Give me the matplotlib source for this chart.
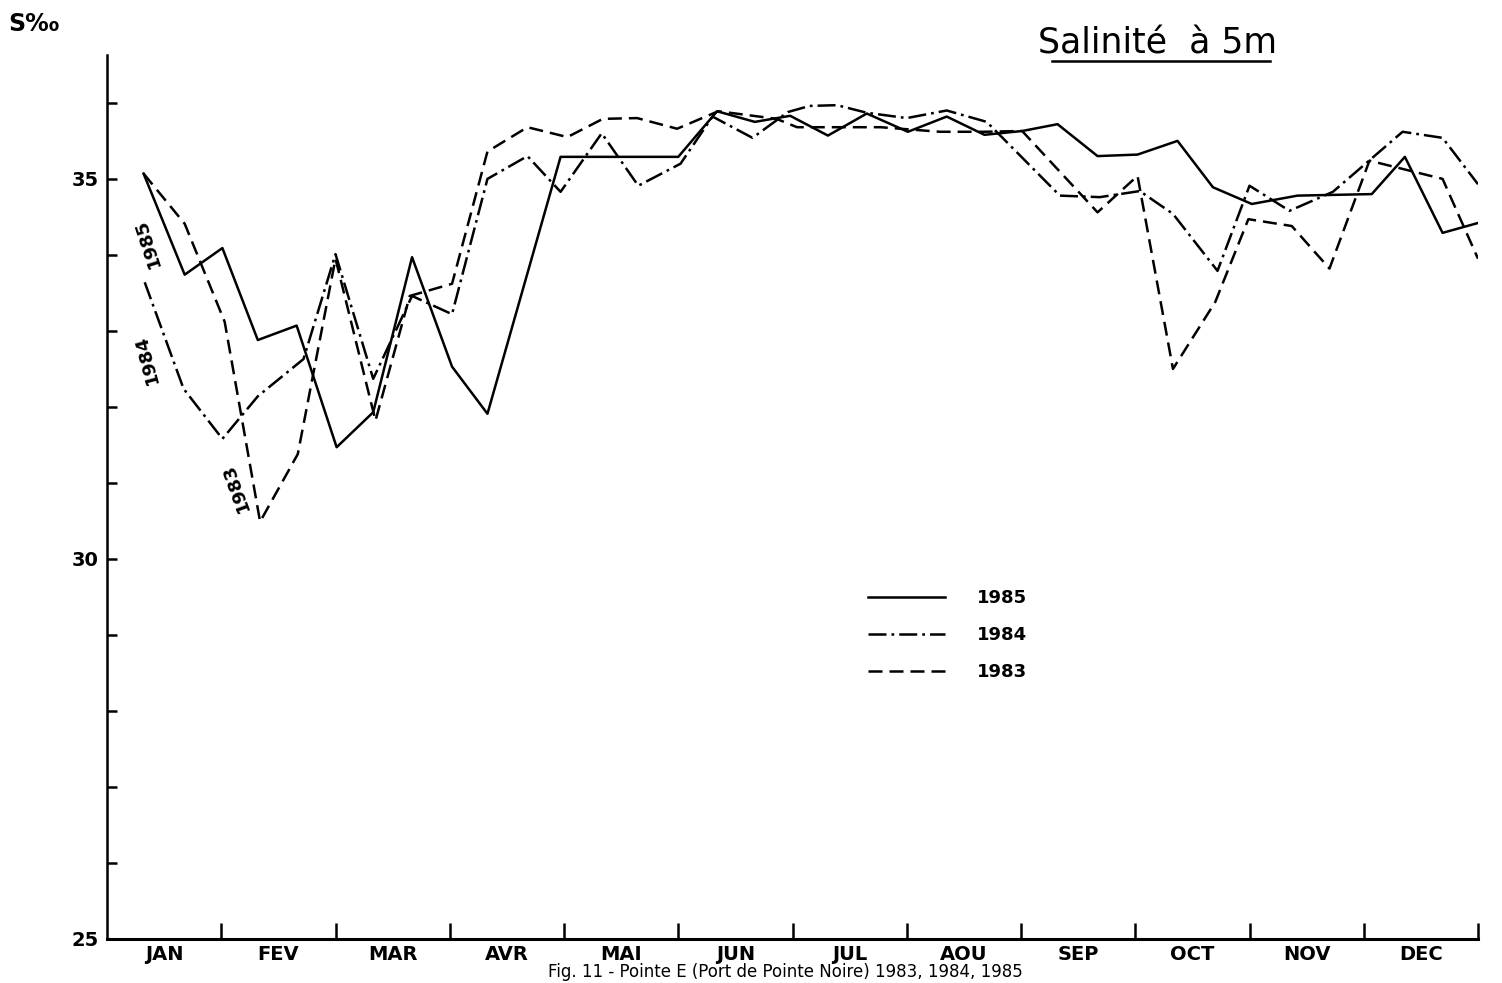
import matplotlib
matplotlib.use("Agg")
import matplotlib.pyplot as plt
from matplotlib.lines import Line2D
from matplotlib.ticker import FixedLocator, FuncFormatter

# x values are in months from 1 January (0 = start of JAN, 12 = end of DEC)
x_1985 = [0.32, 0.68, 1.01, 1.32, 1.66, 2.01, 2.33, 2.67, 3.02, 3.33, 3.97, 4.33, 4.67,
          5.00, 5.34, 5.67, 5.98, 6.31, 6.65, 7.01, 7.35, 7.68, 8.01, 8.32, 8.67, 9.02,
          9.37, 9.68, 10.02, 10.42, 11.07, 11.36, 11.69, 12.0]
s_1985 = [35.07, 33.74, 34.09, 32.88, 33.07, 31.47, 31.93, 33.97, 32.53, 31.91, 35.29, 35.29, 35.29,
          35.29, 35.89, 35.75, 35.83, 35.57, 35.86, 35.62, 35.82, 35.58, 35.63, 35.72, 35.30, 35.32,
          35.50, 34.89, 34.67, 34.78, 34.80, 35.29, 34.29, 34.42]

x_1984 = [0.33, 0.67, 1.01, 1.32, 1.72, 2.00, 2.33, 2.67, 3.02, 3.33, 3.68, 3.97, 4.33,
          4.65, 5.02, 5.30, 5.65, 5.96, 6.15, 6.39, 6.65, 7.00, 7.35, 7.70, 8.34, 8.69,
          9.04, 9.33, 9.72, 10.00, 10.35, 10.73, 11.34, 11.69, 12.0]
s_1984 = [33.64, 32.24, 31.58, 32.14, 32.63, 34.01, 32.37, 33.46, 33.22, 35.00, 35.30, 34.83, 35.60,
          34.91, 35.20, 35.82, 35.54, 35.88, 35.96, 35.97, 35.87, 35.80, 35.90, 35.75, 34.78, 34.76,
          34.84, 34.54, 33.79, 34.91, 34.58, 34.83, 35.62, 35.54, 34.93]

x_1983 = [0.32, 0.68, 1.03, 1.34, 1.67, 2.00, 2.35, 2.65, 3.02, 3.33, 3.68, 4.03, 4.34,
          4.64, 4.99, 5.35, 5.86, 6.04, 6.77, 7.29, 7.67, 8.01, 8.67, 9.02, 9.33, 9.70,
          9.99, 10.37, 10.70, 11.05, 11.69, 12.0]
s_1983 = [35.07, 34.41, 33.12, 30.49, 31.38, 33.95, 31.82, 33.46, 33.62, 35.36, 35.68, 35.55, 35.79,
          35.80, 35.66, 35.89, 35.79, 35.68, 35.68, 35.62, 35.62, 35.63, 34.56, 35.04, 32.50, 33.38,
          34.47, 34.38, 33.82, 35.24, 35.00, 33.95]

months = ["JAN", "FEV", "MAR", "AVR", "MAI", "JUN", "JUL", "AOU", "SEP", "OCT", "NOV", "DEC"]

plt.rcParams['font.family'] = ['DejaVu Sans']

fig = plt.figure(figsize=(15.02, 9.83), dpi=100)
ax = fig.add_axes([107 / 1502, 44 / 983, 1371 / 1502, 884 / 983])

lw = 1.8
ax.plot(x_1985, s_1985, color="black", lw=lw, label="1985")
ax.plot(x_1984, s_1984, color="black", lw=lw, dashes=(7.2, 2.0, 1.1, 2.0), label="1984")
ax.plot(x_1983, s_1983, color="black", lw=lw, dashes=(5.6, 2.8), label="1983")

ax.set_xlim(0, 12)
ax.set_ylim(25, 36.63)

for side in ["top", "right"]:
    ax.spines[side].set_visible(False)
ax.spines["left"].set_linewidth(1.8)
ax.spines["bottom"].set_linewidth(2.2)

# month boundaries as ticks, month names centred between them
ax.xaxis.set_major_locator(FixedLocator(range(1, 13)))
ax.xaxis.set_minor_locator(FixedLocator([m + 0.5 for m in range(12)]))
ax.set_xticklabels([""] * 12)
ax.set_xticklabels(months, minor=True, fontsize=14, fontweight="bold")
ax.tick_params(axis="x", which="major", direction="in", length=11.5, width=1.8)
ax.tick_params(axis="x", which="minor", length=0, pad=4)

ax.yaxis.set_major_locator(FixedLocator(range(25, 37)))
ax.yaxis.set_major_formatter(FuncFormatter(lambda v, p: "%d" % v if v % 5 == 0 else ""))
ax.tick_params(axis="y", direction="in", length=7.5, width=1.8, labelsize=14, pad=6)
for t in ax.get_yticklabels():
    t.set_fontweight("bold")

# year labels written along the curves
ax.text(0.35, 34.16, "1985", rotation=108, fontsize=13, fontweight="bold", ha="center", va="center")
ax.text(0.35, 32.63, "1984", rotation=105, fontsize=13, fontweight="bold", ha="center", va="center")
ax.text(1.13, 30.95, "1983", rotation=110, fontsize=13, fontweight="bold", ha="center", va="center")

leg = ax.legend(loc="upper left", bbox_to_anchor=(0.555, 0.396), frameon=False,
                handlelength=4.25, handletextpad=1.8, labelspacing=1.05,
                prop={"weight": "bold", "size": 13}, borderaxespad=0, borderpad=0)

fig.text(8 / 1502, 1 - 24 / 983, "S‰", fontsize=17, fontweight="bold", va="center", ha="left")

fig.text(1038 / 1502, 1 - 43 / 983, "Salinité  à 5m", fontsize=25, va="center", ha="left")
fig.add_artist(Line2D([1052 / 1502, 1270 / 1502], [1 - 61 / 983, 1 - 61 / 983],
                      color="black", lw=1.8, transform=fig.transFigure))

fig.text(785 / 1502, 1 - 981 / 983, "Fig. 11 - Pointe E (Port de Pointe Noire) 1983, 1984, 1985",
         fontsize=12, va="bottom", ha="center")

fig.savefig("out.png", dpi=100, facecolor="white")
